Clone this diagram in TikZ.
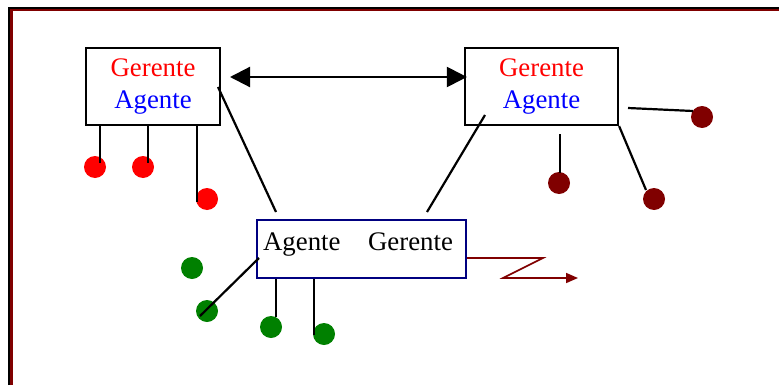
\documentclass[tikz,border=0pt]{standalone}
\usepackage{fontspec}
\setmainfont{Liberation Serif}
\usetikzlibrary{arrows.meta}
\definecolor{darkred}{RGB}{128,0,0}
\definecolor{navy}{RGB}{0,0,128}
\definecolor{dkgreen}{RGB}{0,128,0}

\begin{document}
\begin{tikzpicture}[x=0.5pt,y=-0.5pt,line width=1.1pt,
    every node/.style={font=\fontsize{13.4}{16}\selectfont},
    box/.style={draw,rectangle,inner sep=0pt,align=center},
    dot/.style={circle,fill=#1,inner sep=0pt,minimum size=11pt}]
    \useasboundingbox (0,0) rectangle (779,385);
    \draw[line width=1.2pt] (9,385) -- (9,8) -- (779,8);
    \draw[darkred,line width=1.2pt] (11.3,385) -- (11.3,10.3) -- (779,10.3);
    \node[box,minimum width=67pt,minimum height=38.5pt] (g1) at (153,86.5) {\textcolor{red}{Gerente}\\\textcolor{blue}{Agente}};
    \node[box,minimum width=76.5pt,minimum height=38.5pt] (g2) at (541.5,86.5) {\textcolor{red}{Gerente}\\\textcolor{blue}{Agente}};
    \node[box,draw=navy,minimum width=104.5pt,minimum height=29pt] (ag) at (361.5,249) {};
    \node[anchor=base west,inner sep=0pt] (agl) at (262,250) {Agente};
    \node[anchor=base west,inner sep=0pt] (gel) at (367,250) {Gerente};
    \node[dot=red] (r1) at (95,167) {};
    \node[dot=red] (r2) at (143,167) {};
    \node[dot=red] (r3) at (207,199) {};
    \node[dot=darkred] (d1) at (559,183) {};
    \node[dot=darkred] (d2) at (654,199) {};
    \node[dot=darkred] (d3) at (702,117) {};
    \node[dot=dkgreen] (v1) at (192,268) {};
    \node[dot=dkgreen] (v2) at (207,311) {};
    \node[dot=dkgreen] (v3) at (271,327) {};
    \node[dot=dkgreen] (v4) at (324,334) {};
    \coordinate (a1) at (230,77);
    \coordinate (p1) at (100,163);
    \coordinate (p2) at (148,163);
    \coordinate (p3) at (197,202);
    \coordinate (q1) at (218,87);
    \coordinate (q2) at (276,212);
    \coordinate (q3) at (485,115);
    \coordinate (q4) at (427,212);
    \coordinate (s1) at (560,134);
    \coordinate (s2) at (560,173);
    \coordinate (s3) at (646,190);
    \coordinate (s4) at (628,108);
    \coordinate (s5) at (693,111);
    \coordinate (t1) at (259,258);
    \coordinate (t2) at (200,316);
    \coordinate (t3) at (276,317);
    \coordinate (t4) at (314,335);
    \coordinate (z1) at (543,258);
    \coordinate (z2) at (503,278);
    \coordinate (z3) at (578,278);
    \draw[{Triangle[length=10pt,width=10pt]}-{Triangle[length=10pt,width=10pt]}] (a1) -- ([xshift=1.5pt]a1 -| g2.west);
    \draw (p1 |- g1.south) -- (p1);
    \draw (p2 |- g1.south) -- (p2);
    \draw (p3 |- g1.south) -- (p3);
    \draw (q1) -- (q2);
    \draw (q3) -- (q4);
    \draw (s1) -- (s2);
    \draw (g2.south east) -- (s3);
    \draw (s4) -- (s5);
    \draw (t1) -- (t2);
    \draw (t3 |- ag.south) -- (t3);
    \draw (t4 |- ag.south) -- (t4);
    \draw[darkred,line width=0.8pt,-{Triangle[length=6pt,width=5pt]}] (ag.east |- z1) -- (z1) -- (z2) -- (z3);
\end{tikzpicture}
\end{document}
